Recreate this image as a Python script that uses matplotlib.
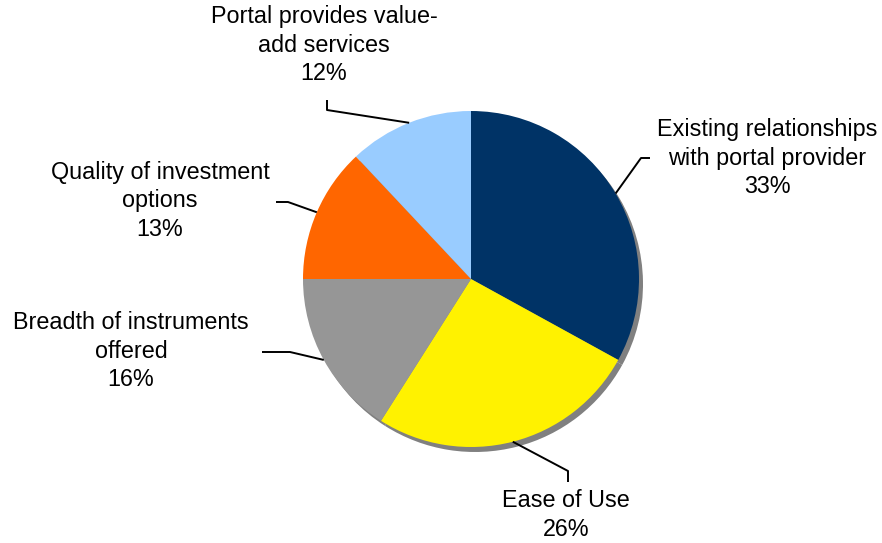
import numpy as np
import matplotlib.pyplot as plt

plt.rcParams["font.family"] = ["Liberation Sans", "DejaVu Sans"]

labels = [
    "Existing relationships\nwith portal provider",
    "Ease of Use",
    "Breadth of instruments\noffered",
    "Quality of investment\noptions",
    "Portal provides value-\nadd services",
]
shares = [33, 26, 16, 13, 12]
colors = ["#003366", "#FFF200", "#969696", "#FF6600", "#99CCFF"]

W, H = 882, 543
cx, cy, r = 471, H - 279, 168

# text centre, elbow and end of the leader line (pixels, y down)
text_pos = [(767, 158), (566, 515), (131, 351), (160, 201), (324, 45)]
elbows = [(641, 158), (568, 471), (290, 352), (288, 202), (327, 110)]
ends = [(650, 158), (568, 482), (262, 352), (276, 202), (327, 100)]

fig = plt.figure(figsize=(W / 100, H / 100), dpi=100)
ax = fig.add_axes([0, 0, 1, 1])

# drop shadow
ax.pie(shares, colors=["#808080"] * len(shares), startangle=90, counterclock=False,
       center=(cx + 4, cy - 5), radius=r, frame=True)
wedges, _ = ax.pie(shares, colors=colors, startangle=90, counterclock=False,
                   center=(cx, cy), radius=r, frame=True)
ax.set_xlim(0, W)
ax.set_ylim(0, H)
ax.set_aspect("equal")
ax.axis("off")

for w, lab, val, tp, el, en in zip(wedges, labels, shares, text_pos, elbows, ends):
    mid = np.deg2rad((w.theta1 + w.theta2) / 2)
    x0 = cx + r * np.cos(mid)
    y0 = cy + r * np.sin(mid)
    ax.plot([x0, el[0], en[0]], [y0, H - el[1], H - en[1]], color="black", lw=1.4,
            solid_capstyle="butt")
    ax.text(tp[0], H - tp[1], f"{lab}\n{val}%", ha="center", va="center",
            fontsize=16.8, linespacing=1.29)

fig.savefig("out.png", dpi=100)
